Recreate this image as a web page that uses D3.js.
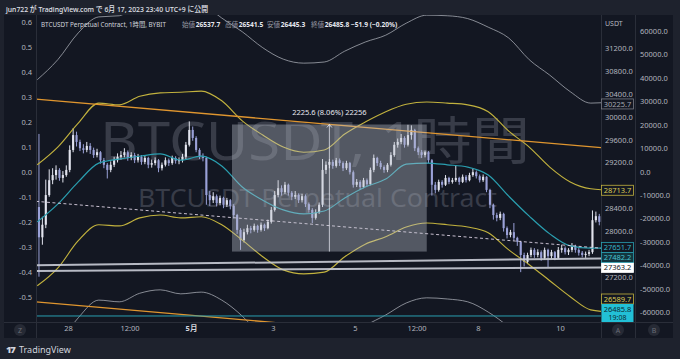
<!DOCTYPE html>
<html><head><meta charset="utf-8">
<script src="https://cdn.jsdelivr.net/npm/d3@7"></script>
<style>html,body{margin:0;padding:0;background:#1e222d;}svg{display:block;}</style>
</head><body><svg id="c" width="680" height="359"></svg>
<script>
// ---------------- DATA ----------------
const barStart = Date.UTC(2023,3,27,6,0);   // first 2h bar open time (UTC+9 wall clock)
const barHours = 2;
const firstOpen = 28420;
const closes = [27890,28110,28630,28890,28980,29070,28930,28980,29070,29420,29680,29560,29450,29420,29490,29420,29330,29380,29240,29160,
29070,29160,29240,29300,29330,29380,29280,29330,29240,29300,29210,29280,29160,29190,29240,29100,29160,29240,29190,29280,
29230,29240,29300,29510,29770,29630,29420,29310,29280,28630,28540,28610,28490,28580,28460,28540,28440,28280,28020,27840,
27980,28050,28020,28090,28020,28110,28050,28160,28370,28630,28750,28680,28810,28670,28600,28630,28540,28610,28470,28370,
28230,28330,28460,29070,29160,29210,29140,29240,29190,29100,29190,29030,28810,28860,28770,28890,28820,29070,29280,29190,
29120,29070,29160,29330,29510,29560,29630,29510,29680,29770,29450,29380,29330,29380,29240,28810,28720,28860,28810,28930,
28860,28890,28930,28860,28950,28890,28980,29030,28960,28890,28950,28720,28460,28280,28230,28300,28050,27930,27980,27880,
27810,27580,27460,27580,27670,27580,27630,27530,27670,27560,27630,27530,27670,27700,27630,27670,27740,27670,27620,27580,
27600,27630,28190,28260,28160,28220];
const highs = [29700,28250,28900,29080,29100,29150,29100,29050,29150,29500,29800,29740,29600,29520,29560,29540,29460,29440,29400,29280,
29190,29220,29300,29360,29400,29450,29410,29380,29370,29350,29330,29330,29300,29250,29290,29260,29200,29290,29270,29320,
29310,29290,29350,29560,29920,29830,29660,29450,29360,29300,28700,28680,28640,28620,28600,28580,28560,28470,28300,28050,
28040,28110,28090,28130,28110,28150,28130,28200,28420,28700,28890,28800,28860,28830,28700,28700,28660,28650,28640,28500,
28400,28380,28500,29260,29220,29260,29250,29280,29270,29220,29230,29210,29060,28910,28890,28930,28920,29110,29340,29300,
29230,29150,29190,29380,29560,29620,29700,29660,29860,29850,29790,29480,29420,29410,29400,29260,28860,28900,28890,28980,
28950,28930,29150,28950,28990,28980,29020,29090,29060,28990,28990,28960,28740,28480,28320,28340,28320,28080,28020,28140,
27900,27830,27620,27620,27710,27700,27680,27660,27710,27690,27670,27650,27720,27760,27730,27700,27790,27760,27700,27650,
27640,27670,28360,28340,28300,28290];
const lows = [27200,27760,28050,28600,28820,28900,28880,28850,28950,29030,29380,29480,29400,29360,29380,29350,29280,29290,29180,29100,
28920,29030,29120,29200,29250,29290,29230,29240,29190,29200,29160,29170,29100,29110,29150,29030,29060,29130,29140,29160,
29180,29170,29200,29260,29480,29580,29380,29260,29220,28460,28440,28490,28430,28450,28400,28420,28380,28220,27950,27670,
27800,27940,27960,27990,27970,27990,28000,28030,28130,28340,28590,28620,28650,28620,28540,28560,28490,28500,28420,28320,
28140,28200,28300,28420,29000,29100,29090,29110,29140,29050,29070,28990,28760,28770,28720,28750,28780,28800,29030,29140,
29080,29020,29030,29130,29300,29460,29520,29460,29480,29600,29400,29330,29280,29290,29190,28620,28660,28690,28760,28790,
28820,28830,28860,28810,28840,28850,28870,28950,28920,28850,28860,28680,28400,28200,28170,28190,27990,27870,27890,27830,
27740,27280,27380,27420,27540,27530,27540,27480,27500,27370,27520,27490,27510,27620,27590,27580,27630,27620,27570,27540,
27530,27560,27600,28150,28100,28150];

const lineStart = Date.UTC(2023,3,27,6,0);   // indicator samples every 12h
const lineStepHours = 12;
const maCyan     = [28160,28470,28860,29190,29260,29310,29350,29240,29310,29140,28770,28540,28370,28300,28350,28580,28770,28910,29170,29190,29160,29120,28980,28610,28260,27950,27740,27700,27700];
const bandUpper  = [29160,29470,29890,30240,30210,30360,30420,30430,30450,30280,29930,29680,29470,29380,29420,29700,29910,30090,30220,30260,30240,30210,30090,29750,29470,29120,28860,28740,28714];
const bandLower  = [27040,27350,27830,28110,28090,28230,28280,28230,28250,28110,27840,27550,27320,27250,27280,27550,27770,27900,28070,28140,28110,28070,27970,27670,27410,27130,26850,26620,26580];
const outerUpper = [30650,31000,31470,31750,31770,32050,32310,32310,32010,31730,31490,31210,31010,30940,30960,31150,31310,31430,31640,31780,31770,31720,31570,31380,31000,30730,30440,30240,30260];
const outerLower = [25480,26000,26480,26790,26760,26910,26970,26900,26930,26790,26510,26130,25830,25740,25830,26090,26340,26530,26740,26830,26810,26760,26580,26320,26000,25740,25570,25480,25480];

const trendTimes  = [Date.UTC(2023,3,27,5,16), Date.UTC(2023,4,11,0,0)];
const orangeUpper = [30310, 29460];
const orangeLower = [26760, 25900];
const whiteLineA  = [27400, 27520];
const whiteLineB  = [27300, 27363.2];
const dashedLine  = [28520, 27700];

const rangeTimes  = [Date.UTC(2023,4,2,0,0), Date.UTC(2023,4,6,18,0)];
const rangePrices = [27640, 29865.6];
const rangeText = "2225.6 (8.06%) 22256";

const lastPrice = 26485.8;
const lastCountdown = "19:08";
const labelValues = [30225.7, 28713.7, 27651.7, 27482.2, 27363.2, 26589.7];

const priceTicks = [31200,30800,30400,30000,29600,29200,28800,28400,28000,27600,27200,26800];
const scaleBTicks = [60000,50000,40000,30000,20000,10000,0,-10000,-20000,-30000,-40000,-50000,-60000];
const leftTicks = [0.6,0.5,0.4,0.3,0.2,0.1,0.0,-0.1,-0.2,-0.3,-0.4,-0.5];
const timeTickDates = [Date.UTC(2023,3,28),Date.UTC(2023,3,29,12),Date.UTC(2023,4,1),Date.UTC(2023,4,3),Date.UTC(2023,4,5),Date.UTC(2023,4,6,12),Date.UTC(2023,4,8),Date.UTC(2023,4,10)];
const timeTickLabels = ["28","12:00","5月","3","5","12:00","8","10"];

const headerText = "jun722 が TradingView.com で 6月 17, 2023 23:40 UTC+9 に公開";
const legendTitle = "BTCUSDT Perpetual Contract, 1時間, BYBIT";
const legendNames = ["始値","高値","安値","終値"];
const legendValues = ["26537.7","26541.5","26445.3","26485.8"];
const legendChange = "−51.9 (−0.20%)";

// ---------------- LAYOUT ----------------
const W=680,H=359, PL=36, PR=601, PT=15, PB=322, AXB=635, PANEL_R=673;
const FONT = "'Noto Sans','Noto Sans CJK JP',sans-serif";
const C = {bg:"#1e222d", panel:"#131722", sep:"#2a2e39", text:"#b2b5be", light:"#d1d4dc",
  cyan:"#2a9fb0", yellow:"#c2b23e", yellowTxt:"#dccd55", gray:"#a3a6af", orange:"#e0962f",
  up:"#e2e4ee", down:"#9aa1d8", last:"#22c0d6"};

const svg = d3.select("#c").style("font-family", FONT);
svg.append("rect").attr("width",W).attr("height",H).attr("fill",C.bg);
svg.append("rect").attr("x",4).attr("y",PT).attr("width",PANEL_R-4).attr("height",338-PT).attr("fill",C.panel);

const x = d3.scaleUtc().domain(trendTimes.map(t=>new Date(t))).range([PL,PR]);
const y = d3.scaleLinear().domain([27200,31200]).range([276.7,48.3]);
const yB = d3.scaleLinear().domain([-60000,60000]).range([312.3,31.1]);
const yL = d3.scaleLinear().domain([-0.5,0.6]).range([296.7,21.7]);
const HOUR = 3600e3;

svg.append("defs").append("clipPath").attr("id","plot").append("rect")
  .attr("x",PL).attr("y",PT).attr("width",PR-PL).attr("height",PB-PT);
const plot = svg.append("g").attr("clip-path","url(#plot)");

// watermark
plot.append("text").attr("x",100).attr("y",160).attr("font-size",52)
  .attr("textLength",430).attr("lengthAdjust","spacingAndGlyphs")
  .attr("fill","#383c48").text("BTCUSDT, 1時間");
plot.append("text").attr("x",138).attr("y",207).attr("font-size",26)
  .attr("textLength",359).attr("lengthAdjust","spacingAndGlyphs")
  .attr("fill","#383c48").text("BTCUSDT Perpetual Contract");

// indicator lines
const lineTime = i => new Date(lineStart + i*lineStepHours*HOUR);
const mkLine = d3.line().x((d,i)=>x(lineTime(i))).y(d=>y(d)).curve(d3.curveMonotoneX);
[[outerUpper,C.gray,1],[outerLower,C.gray,1]].forEach(([d,c,w])=>
  plot.append("path").attr("d",mkLine(d)).attr("fill","none").attr("stroke",c).attr("stroke-width",w).attr("opacity",0.8));

// candles
const barW = (x(new Date(barStart+barHours*HOUR)) - x(new Date(barStart)))*0.62;
const cg = plot.append("g");
closes.forEach((c,i)=>{
  const o = i===0 ? firstOpen : closes[i-1];
  const cx = x(new Date(barStart + (i*barHours + barHours/2)*HOUR));
  const col = c>=o ? C.up : C.down;
  cg.append("line").attr("x1",cx).attr("x2",cx).attr("y1",y(highs[i])).attr("y2",y(lows[i]))
    .attr("stroke",col).attr("stroke-width",1);
  const yt = y(Math.max(o,c)), yb = y(Math.min(o,c));
  cg.append("rect").attr("x",cx-barW/2).attr("y",yt).attr("width",barW).attr("height",Math.max(1,yb-yt)).attr("fill",col);
});

[[bandUpper,C.yellow,1.15],[bandLower,C.yellow,1.15],[maCyan,C.cyan,1.2]].forEach(([d,c,w])=>
  plot.append("path").attr("d",mkLine(d)).attr("fill","none").attr("stroke",c).attr("stroke-width",w));

// trend lines
const seg = (vals,color,w,dash,op) => plot.append("line")
  .attr("x1",x(new Date(trendTimes[0]))).attr("x2",x(new Date(trendTimes[1])))
  .attr("y1",y(vals[0])).attr("y2",y(vals[1])).attr("stroke",color).attr("stroke-width",w)
  .attr("stroke-dasharray",dash||null).attr("opacity",op||1);
seg(orangeUpper,C.orange,1.3);
seg(orangeLower,C.orange,1.3);
seg(dashedLine,"#ddd3e4",1,"3,2.5",0.9);
seg(whiteLineA,"#c9ccd6",2,null,0.9);
seg(whiteLineB,"#c9ccd6",2,null,0.9);

// last price line
plot.append("line").attr("x1",PL).attr("x2",PR).attr("y1",y(lastPrice)-1.5).attr("y2",y(lastPrice)-1.5)
  .attr("stroke",C.cyan).attr("stroke-width",1);

// date & price range box
const bx0=x(new Date(rangeTimes[0])), bx1=x(new Date(rangeTimes[1]));
const by0=y(rangePrices[1]), by1=y(rangePrices[0]);
plot.append("rect").attr("x",bx0).attr("y",by0).attr("width",bx1-bx0).attr("height",by1-by0)
  .attr("fill","rgba(190,194,206,0.38)");
const bxm=(bx0+bx1)/2;
plot.append("line").attr("x1",bxm).attr("x2",bxm).attr("y1",by0).attr("y2",by1)
  .attr("stroke","rgba(230,232,240,0.75)").attr("stroke-width",1);
plot.append("path").attr("d",`M${bxm-2.5},${by0+3}L${bxm},${by0}L${bxm+2.5},${by0+3}`)
  .attr("fill","none").attr("stroke","rgba(230,232,240,0.8)");
plot.append("text").attr("x",bxm).attr("y",by0-9).attr("text-anchor","middle")
  .attr("font-size",7.5).attr("fill","#e6e8ef").text(rangeText);

// separators
const sepG = svg.append("g").attr("stroke",C.sep).attr("stroke-width",1);
sepG.append("line").attr("x1",4).attr("x2",PANEL_R).attr("y1",PB+0.5).attr("y2",PB+0.5);
[PL,PR,AXB].forEach(v=>sepG.append("line").attr("x1",v+0.5).attr("x2",v+0.5).attr("y1",PT).attr("y2",338));

// label layout on scale A (computed first so hidden tick labels can be skipped)
const lastTop = Math.min(y(lastPrice)-5, PB-18);
let prevTop = lastTop;
const placed = labelValues.slice().sort((a,b)=>a-b).map(v=>{
  const cy = Math.min(y(v), prevTop-5);
  prevTop = cy-5;
  return {v, cy};
});
const occupied = placed.map(p=>[p.cy-5,p.cy+5]).concat([[lastTop,lastTop+18]]);
const visibleTicks = priceTicks.filter(t=>{
  const ty=y(t); return !occupied.some(([a,b])=>ty+4>a && ty-4<b);
});

// axes
const loc = d3.formatLocale({decimal:".",thousands:"",grouping:[3],currency:["",""],minus:"-"});
const f1 = loc.format(".1f");
function styleAxis(g){ g.select(".domain").remove(); g.selectAll("text").attr("fill",C.text).attr("font-size",7.5).attr("font-family",FONT); }
svg.append("g").attr("transform",`translate(${PR},0)`)
  .call(d3.axisRight(y).tickValues(visibleTicks).tickFormat(f1).tickSize(0).tickPadding(4)).call(styleAxis);
svg.append("g").attr("transform",`translate(${AXB},0)`)
  .call(d3.axisRight(yB).tickValues(scaleBTicks).tickFormat(f1).tickSize(0).tickPadding(5)).call(styleAxis);
svg.append("g").attr("transform",`translate(32,0)`)
  .call(d3.axisLeft(yL).tickValues(leftTicks).tickFormat(f1).tickSize(0).tickPadding(0)).call(styleAxis);
const xa = svg.append("g").attr("transform",`translate(0,${PB})`)
  .call(d3.axisBottom(x).tickValues(timeTickDates.map(t=>new Date(t))).tickFormat((d,i)=>timeTickLabels[i]).tickSize(0).tickPadding(4)).call(styleAxis);
xa.selectAll("text").filter((d,i)=>timeTickLabels[i]==="5月").attr("font-weight","bold").attr("fill",C.light);

svg.append("text").attr("x",605).attr("y",26).attr("font-size",7).attr("fill",C.text).text("USDT");

// price labels on scale A
const styles = {
  30225.7:{f:C.panel,s:"#787b86",t:"#a3a6af"},
  28713.7:{f:C.panel,s:C.yellow,t:C.yellowTxt},
  27651.7:{f:C.panel,s:C.cyan,t:"#35b3c3"},
  27482.2:{f:"#133640",s:C.cyan,t:"#49c0cf"},
  27363.2:{f:"#ffffff",s:"#ffffff",t:"#131722"},
  26589.7:{f:C.panel,s:C.yellow,t:C.yellowTxt}
};
const lg = svg.append("g");
placed.forEach(({v,cy})=>{
  const st = styles[v];
  lg.append("rect").attr("x",PR+0.5).attr("y",cy-5).attr("width",32).attr("height",10)
    .attr("fill",st.f).attr("stroke",st.s).attr("stroke-width",0.8);
  lg.append("text").attr("x",PR+16.5).attr("y",cy+2.7).attr("text-anchor","middle")
    .attr("font-size",7.5).attr("fill",st.t).text(v.toFixed(1));
});
lg.append("rect").attr("x",PR+0.5).attr("y",lastTop).attr("width",32).attr("height",18).attr("fill",C.last);
lg.append("text").attr("x",PR+16.5).attr("y",lastTop+7.8).attr("text-anchor","middle").attr("font-size",7.5).attr("fill","#0d2a33").text(lastPrice.toFixed(1));
lg.append("text").attr("x",PR+16.5).attr("y",lastTop+15.5).attr("text-anchor","middle").attr("font-size",7).attr("fill","#0d2a33").text(lastCountdown);

// round buttons
[["Z",20],["A",618],["B",654]].forEach(([t,cx])=>{
  svg.append("circle").attr("cx",cx).attr("cy",330).attr("r",6).attr("fill","#262a35");
  svg.append("text").attr("x",cx).attr("y",332.6).attr("text-anchor","middle").attr("font-size",7).attr("fill","#6a6d78").text(t);
});

// header & legend
svg.append("text").attr("x",6).attr("y",12).attr("font-size",7.5).attr("fill","#e0e3eb").attr("font-weight",500)
  .attr("textLength",202).attr("lengthAdjust","spacingAndGlyphs").text(headerText);
const leg = svg.append("g");
leg.append("text").attr("x",41).attr("y",26.8).attr("fill",C.light).attr("font-size",6.3).text(legendTitle);
const legX = [182,225,267,311];
legendNames.forEach((n,i)=>{
  const t = leg.append("text").attr("x",legX[i]).attr("y",26.8).attr("font-size",6.6);
  t.append("tspan").attr("fill","#9598a1").text(n);
  t.append("tspan").attr("fill","#e6e8ef").attr("font-weight","bold").attr("dx",0.5).text(legendValues[i]);
});
leg.append("text").attr("x",351).attr("y",26.8).attr("fill","#e6e8ef").attr("font-weight","bold").attr("font-size",6.6)
  .text(legendChange);

// footer
const ft = svg.append("g");
ft.append("text").attr("x",6).attr("y",352.5).attr("font-size",9.5).attr("font-weight",900).attr("fill",C.light)
  .attr("letter-spacing",-1.2).text("17");
ft.append("text").attr("x",19).attr("y",352.5).attr("font-size",9).attr("fill",C.light).text("TradingView");
</script></body></html>
